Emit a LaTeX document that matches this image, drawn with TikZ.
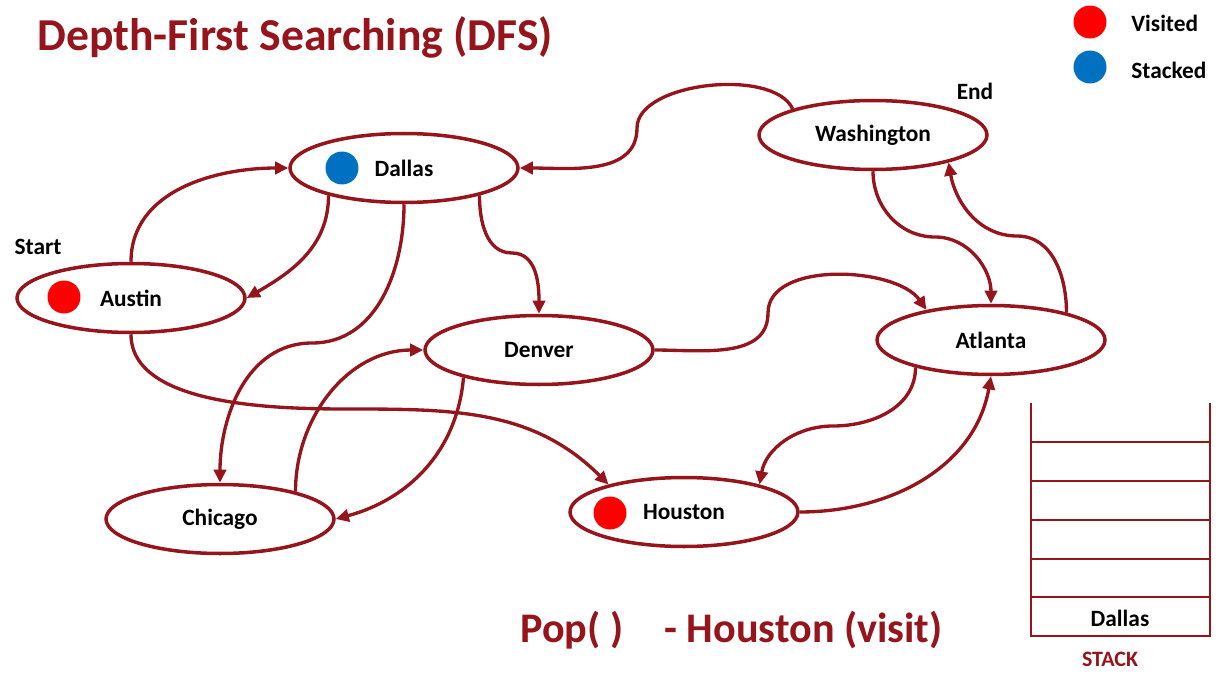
\documentclass[tikz,border=0pt]{standalone}
\usepackage{fontspec}
\setmainfont{Carlito}
\usetikzlibrary{arrows.meta, shapes.geometric, positioning}
\definecolor{dfsred}{RGB}{150,20,28}
\definecolor{visitred}{RGB}{255,0,0}
\definecolor{stackblue}{RGB}{0,112,192}
\tikzset{
  city/.style={ellipse, draw=dfsred, line width=2pt, fill=white, inner sep=0pt,
               minimum width=4.56cm, minimum height=1.38cm, font=\fontsize{13.3}{16}\selectfont\bfseries},
  spot/.style={circle, inner sep=0pt, minimum size=0.66cm},
  flow/.style={draw=dfsred, line width=1.9pt, -{Triangle[length=7.5pt,width=7pt]}},
  tag/.style={font=\fontsize{13.3}{16}\selectfont\bfseries, inner sep=0pt},
  stackline/.style={draw=dfsred, line width=1.6pt},
}

\begin{document}
\begin{tikzpicture}[x=0.02cm, y=-0.02cm]
\useasboundingbox (0,0) rectangle (1230,679);

% title and legend
\node[anchor=west, inner sep=0pt, text=dfsred, font=\fontsize{26}{30}\selectfont\bfseries] (title) at (37,37) {Depth-First Searching (DFS)};
\node[spot, fill=visitred] (legvisit) at (1090,22) {};
\node[spot, fill=stackblue] (legstack) at (1090,67) {};
\node[tag, anchor=west] (legvisittxt) at (1131,23) {Visited};
\node[tag, anchor=west] (legstacktxt) at (1131,70) {Stacked};

% cities
\node[city] (dallas) at (404,168) {Dallas};
\node[city] (austin) at (131,298) {Austin};
\node[city] (washington) at (873,135) {Washington};
\node[city] (denver) at (539,350) {Denver};
\node[city] (atlanta) at (991,340) {Atlanta};
\node[city] (chicago) at (220,519) {Chicago};
\node[city] (houston) at (684,512) {Houston};

\node[spot, fill=visitred] (austindot) at (64,297) {};
\node[spot, fill=stackblue] (dallasdot) at (342,168) {};
\node[spot, fill=visitred] (houstondot) at (610,513) {};

\node[tag] (start) at (38,247) {Start};
\node[tag] (end) at (975,91) {End};

% bend points
\coordinate (kdc) at (312,343);
\coordinate (kdd) at (512,253);
\coordinate (kwd) at (637,128);
\coordinate (kwa) at (935,237);
\coordinate (kaw) at (1017,236);
\coordinate (kda) at (768,313);
\coordinate (kah) at (833,426);
\coordinate (kauh) at (348,409);

% connections
\draw[flow] (austin.north) to[out=90,in=180] (dallas.west);
\draw[flow] (dallas.200) to[out=-90,in=30] (austin.east);
\draw[flow] (dallas.south) to[out=-90,in=0] (kdc) to[out=180,in=90] (chicago.north);
\draw[flow] (dallas.-20) to[out=-90,in=180] (kdd) to[out=0,in=90] (denver.north);
\draw[flow] (washington.162) to[out=115,in=90,looseness=0.75] (kwd) to[out=-90,in=0] (dallas.east);
\draw[flow] (washington.south) to[out=-90,in=180] (kwa) to[out=0,in=90] (atlanta.north);
\draw[flow] (atlanta.20) to[out=90,in=0] (kaw) to[out=180,in=-80] (washington.-20);
\draw[flow] (denver.east) to[out=0,in=-90] (kda) to[out=90,in=125,looseness=0.85] (atlanta.155);
\draw[flow] (atlanta.200) to[out=-90,in=0] (kah) to[out=180,in=80] (houston.20);
\draw[flow] (houston.east) to[out=0,in=-100] (atlanta.south);
\draw[flow] (austin.south) to[out=-90,in=180,looseness=0.8] (kauh) to[out=0,in=135] (houston.160);
\draw[flow] (chicago.20) to[out=90,in=180] (denver.west);
\draw[flow] (denver.200) to[out=-95,in=15] (chicago.east);

% stack
\draw[stackline] (1031,403) -- (1031,636) -- (1210,636) -- (1210,403);
\foreach \y in {442,481,520,559,597}
  \draw[stackline] (1031,\y) -- (1210,\y);
\node[tag] (stacktop) at (1120,618) {Dallas};
\node[tag, text=dfsred, font=\fontsize{12.5}{15}\selectfont\bfseries] (stackname) at (1110,659) {STACK};

% operation
\node[tag, anchor=west, text=dfsred, font=\fontsize{24}{28}\selectfont\bfseries] (popop) at (520,630) {Pop( )};
\node[tag, anchor=west, text=dfsred, font=\fontsize{24}{28}\selectfont\bfseries] (popres) at (664,630) {- Houston (visit)};
\end{tikzpicture}
\end{document}
